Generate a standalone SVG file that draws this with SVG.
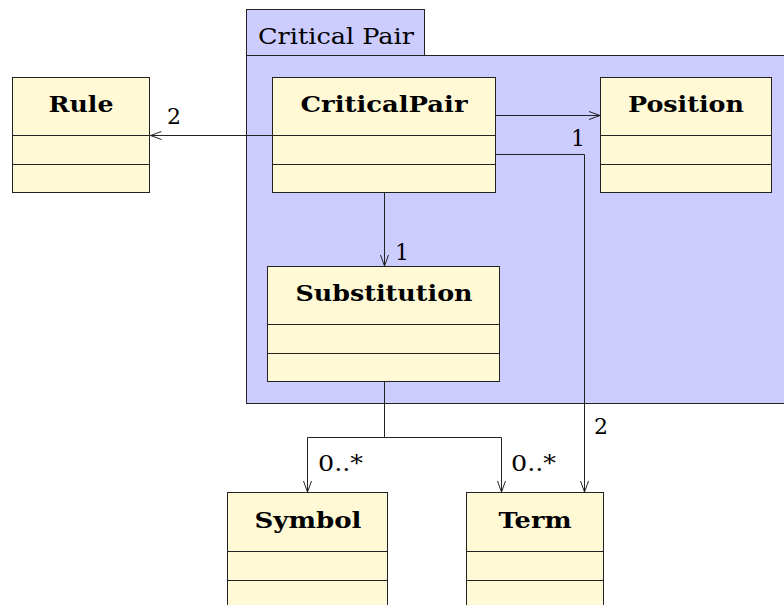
<svg xmlns="http://www.w3.org/2000/svg" width="784" height="605" viewBox="0 0 784 605">
  <defs>
    <marker id="open" viewBox="0 0 12 10" refX="11" refY="5" markerWidth="12" markerHeight="10" markerUnits="userSpaceOnUse" orient="auto">
      <path d="M0,1 L11,5 L0,9" fill="none" stroke="#222" stroke-width="1"/>
    </marker>
  </defs>
  <style>
    .pkg { fill: #ccccff; stroke: #222; stroke-width: 1; }
    .cls { fill: #fff9d6; stroke: #222; stroke-width: 1; }
    .div { stroke: #222; stroke-width: 1; }
    text { font-family: 'DejaVu Serif', 'Liberation Serif', serif; fill: #000; }
    .title { font-weight: bold; font-size: 22px; text-anchor: middle; }
    .ptitle { font-size: 23px; }
    .mult { font-size: 22px; }
    .conn { fill: none; stroke: #222; stroke-width: 1; }
  </style>
  <rect width="784" height="605" fill="#fff"/>

  <!-- package -->
  <g id="pkg-critical-pair">
    <rect class="pkg" x="246.5" y="9.5" width="178" height="46"/>
    <rect class="pkg" x="246.5" y="55.5" width="560" height="348"/>
    <text class="ptitle" x="258" y="44" textLength="156" lengthAdjust="spacingAndGlyphs">Critical Pair</text>
  </g>

  <!-- classes -->
  <g id="Rule">
    <rect class="cls" x="12.5" y="77.5" width="137" height="115"/>
    <line class="div" x1="12.5" y1="135.5" x2="149.5" y2="135.5"/>
    <line class="div" x1="12.5" y1="164.5" x2="149.5" y2="164.5"/>
    <text class="title" x="81" y="112" textLength="65" lengthAdjust="spacingAndGlyphs">Rule</text>
  </g>
  <g id="CriticalPair">
    <rect class="cls" x="272.5" y="77.5" width="223" height="115"/>
    <line class="div" x1="272.5" y1="135.5" x2="495.5" y2="135.5"/>
    <line class="div" x1="272.5" y1="164.5" x2="495.5" y2="164.5"/>
    <text class="title" x="384" y="112" textLength="167" lengthAdjust="spacingAndGlyphs">CriticalPair</text>
  </g>
  <g id="Position">
    <rect class="cls" x="600.5" y="77.5" width="171" height="115"/>
    <line class="div" x1="600.5" y1="135.5" x2="771.5" y2="135.5"/>
    <line class="div" x1="600.5" y1="164.5" x2="771.5" y2="164.5"/>
    <text class="title" x="686" y="112" textLength="116" lengthAdjust="spacingAndGlyphs">Position</text>
  </g>
  <g id="Substitution">
    <rect class="cls" x="267.5" y="266.5" width="232" height="115"/>
    <line class="div" x1="267.5" y1="324.5" x2="499.5" y2="324.5"/>
    <line class="div" x1="267.5" y1="353.5" x2="499.5" y2="353.5"/>
    <text class="title" x="384" y="301" textLength="177" lengthAdjust="spacingAndGlyphs">Substitution</text>
  </g>
  <g id="Symbol">
    <rect class="cls" x="227.5" y="492.5" width="160" height="120"/>
    <line class="div" x1="227.5" y1="551.5" x2="387.5" y2="551.5"/>
    <line class="div" x1="227.5" y1="580.5" x2="387.5" y2="580.5"/>
    <text class="title" x="308" y="528" textLength="107" lengthAdjust="spacingAndGlyphs">Symbol</text>
  </g>
  <g id="Term">
    <rect class="cls" x="466.5" y="492.5" width="137" height="120"/>
    <line class="div" x1="466.5" y1="551.5" x2="603.5" y2="551.5"/>
    <line class="div" x1="466.5" y1="580.5" x2="603.5" y2="580.5"/>
    <text class="title" x="535" y="528" textLength="73" lengthAdjust="spacingAndGlyphs">Term</text>
  </g>

  <!-- associations -->
  <g id="connectors">
    <path class="conn" d="M272.5,135.5 H150.5" marker-end="url(#open)"/>
    <path class="conn" d="M495.5,115.5 H600" marker-end="url(#open)"/>
    <path class="conn" d="M495.5,154.5 H584.5 V492" marker-end="url(#open)"/>
    <path class="conn" d="M384.5,192.5 V266" marker-end="url(#open)"/>
    <path class="conn" d="M384.5,381.5 V437.5 H307.5 V492" marker-end="url(#open)"/>
    <path class="conn" d="M384.5,437.5 H501.5 V492" marker-end="url(#open)"/>
    <text class="mult" x="167" y="124">2</text>
    <text class="mult" x="571" y="146">1</text>
    <text class="mult" x="395" y="260">1</text>
    <text class="mult" x="594" y="434">2</text>
    <text class="mult" x="318" y="471" textLength="45" lengthAdjust="spacingAndGlyphs">0..*</text>
    <text class="mult" x="511" y="471" textLength="45" lengthAdjust="spacingAndGlyphs">0..*</text>
  </g>
</svg>
